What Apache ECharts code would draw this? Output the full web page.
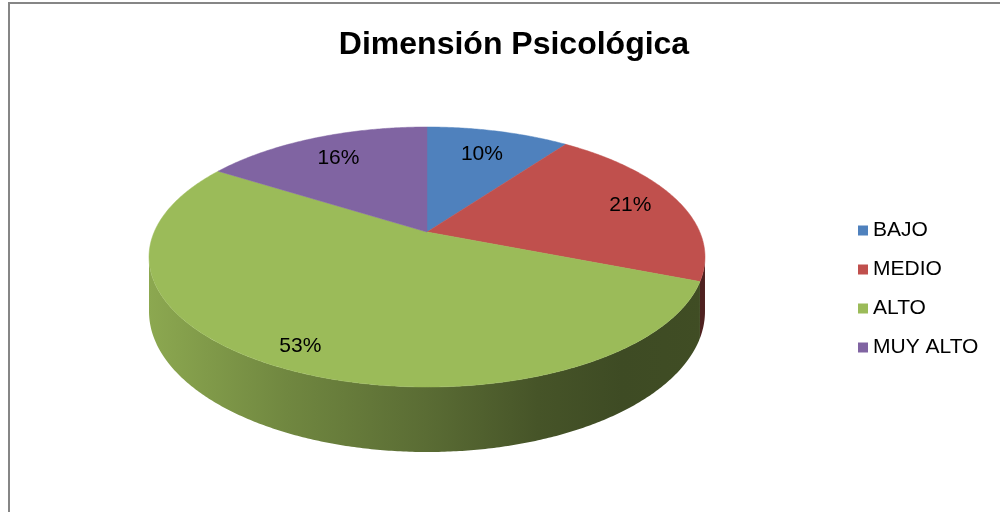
<!DOCTYPE html>
<html><head><meta charset="utf-8">
<script src="https://cdn.jsdelivr.net/npm/echarts@6/dist/echarts.min.js"></script>
<style>html,body{margin:0;padding:0;background:#fff}#c{width:1000px;height:512px}</style>
</head><body><div id="c"></div>
<script>
// ---- data ----
const categories = ['BAJO', 'MEDIO', 'ALTO', 'MUY ALTO'];
const values = [10, 21, 53, 16];
const titleText = 'Dimensión Psicológica';

// ---- style ----
const colors = ['#4f81bd', '#c0504d', '#9bbb59', '#8064a2'];
const FONT = '"Liberation Sans", Arial, sans-serif';
// perspective pie geometry (layout)
const GEO = { cx: 427, cy: 232, a: 272.8, b: 125.2, k: 0.1923, h: 52.5 };
const labelRadius = [0.74, 0.81, 0.87, 0.76];
const shade = [[0, 0.9], [0.25, 0.72], [0.5, 0.58], [0.7, 0.45], [0.85, 0.40], [1, 0.41]];

const total = values.reduce((s, v) => s + v, 0);

function proj(theta, r, z) {
  const u = r * Math.sin(theta), v = -r * Math.cos(theta);
  const w = 1 - GEO.k * v;
  return [GEO.cx + GEO.a * u / w, GEO.cy + (GEO.b * v + GEO.h * z) / w];
}
function mix(hex, f) {
  const n = parseInt(hex.slice(1), 16);
  const r = Math.round(((n >> 16) & 255) * f), g = Math.round(((n >> 8) & 255) * f), b = Math.round((n & 255) * f);
  return 'rgb(' + r + ',' + g + ',' + b + ')';
}
function arc(s, e, r, z) {
  const pts = [];
  const n = Math.max(2, Math.ceil((e - s) / (Math.PI / 360)));
  for (let i = 0; i <= n; i++) pts.push(proj(s + (e - s) * i / n, r, z));
  return pts;
}

function renderItem(params, api) {
  const i = params.seriesIndex;
  let before = 0;
  for (let j = 0; j < i; j++) before += values[j];
  const val = api.value(0);
  const s = before / total * 2 * Math.PI;
  const e = (before + val) / total * 2 * Math.PI;
  const children = [];
  // front wall
  const tR = Math.acos(-GEO.k), tL = 2 * Math.PI - tR;
  const ws = Math.max(s, tR), we = Math.min(e, tL);
  if (we > ws) {
    const top = arc(ws, we, 1, 0);
    const bot = arc(ws, we, 1, 1).reverse();
    const x0 = GEO.cx - GEO.a * 1.02, x1 = GEO.cx + GEO.a * 1.02;
    children.push({
      type: 'polygon',
      shape: { points: top.concat(bot) },
      style: {
        fill: new echarts.graphic.LinearGradient(x0, 0, x1, 0,
          shade.map(p => ({ offset: p[0], color: mix(colors[i], p[1]) })), true),
        stroke: null
      }
    });
  }
  // top face
  const face = [proj(0, 0, 0)].concat(arc(s, e, 1, 0));
  children.push({
    type: 'polygon',
    shape: { points: face },
    style: { fill: colors[i], stroke: colors[i], lineWidth: 0.5 }
  });
  // label
  const mid = (s + e) / 2;
  const lp = proj(mid, labelRadius[i], 0);
  children.push({
    type: 'text',
    z2: 10,
    style: {
      text: Math.round(val / total * 100) + '%',
      x: lp[0], y: lp[1], align: 'center', verticalAlign: 'middle',
      font: '21px ' + FONT, fill: '#000'
    }
  });
  return { type: 'group', children };
}

const chart = echarts.init(document.getElementById('c'), null, { renderer: 'canvas' });
chart.setOption({
  animation: false,
  backgroundColor: '#fff',
  title: {
    text: titleText, left: 509, top: 24, textAlign: 'center',
    textStyle: { fontSize: 32, fontWeight: 'bold', fontFamily: FONT, color: '#000' }
  },
  legend: {
    orient: 'vertical', left: 853, top: 215,
    icon: 'rect', itemWidth: 10, itemHeight: 10, itemGap: 18,
    data: categories,
    textStyle: { fontSize: 21, fontFamily: FONT, color: '#000' }
  },
  graphic: [{
    type: 'rect', z: -1,
    shape: { x: 9, y: 3, width: 1010, height: 540 },
    style: { fill: null, stroke: '#868686', lineWidth: 2 }
  }],
  series: categories.map((name, i) => ({
    type: 'custom', name: name, coordinateSystem: 'none',
    itemStyle: { color: colors[i] },
    renderItem: renderItem,
    data: [[values[i]]]
  }))
});
</script></body></html>
